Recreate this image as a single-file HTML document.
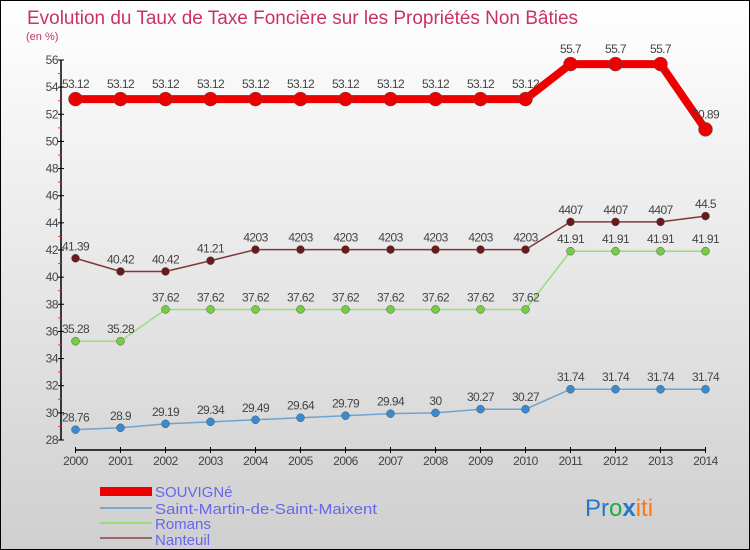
<!DOCTYPE html>
<html><head><meta charset="utf-8"><style>
html,body{margin:0;padding:0;}
svg{display:block;font-family:"Liberation Sans",sans-serif;}
</style></head><body>
<svg id="chart" width="750" height="550" xmlns="http://www.w3.org/2000/svg">
<defs>
<linearGradient id="bg" x1="0" y1="0" x2="0" y2="1"><stop offset="0" stop-color="#ffffff"/><stop offset="1" stop-color="#cfcfcf"/></linearGradient>
</defs>
<rect x="0.5" y="0.5" width="749" height="549" fill="url(#bg)" stroke="#000"/>
<text x="27" y="24" font-size="19" fill="#c8345e" textLength="551" lengthAdjust="spacingAndGlyphs">Evolution du Taux de Taxe Foncière sur les Propriétés Non Bâties</text>
<text x="26" y="40" font-size="11" fill="#c8345e">(en %)</text>
<g id="axes"></g>
<g id="series"></g>
<g>
<rect x="100" y="487" width="52" height="9" fill="#ee0000"/>
<text x="155" y="497" font-size="15" fill="#6666ee">SOUVIGNé</text>
<rect x="100" y="507" width="52" height="2" fill="#7aa8cc"/>
<text x="155" y="514" font-size="15" fill="#6666ee" textLength="222" lengthAdjust="spacingAndGlyphs">Saint-Martin-de-Saint-Maixent</text>
<rect x="100" y="522" width="52" height="2" fill="#99dd77"/>
<text x="155" y="529" font-size="15" fill="#6666ee">Romans</text>
<rect x="100" y="537" width="52" height="2" fill="#9a6666"/>
<text x="155" y="545" font-size="15" fill="#6666ee">Nanteuil</text>
</g>
<text x="585" y="516" font-size="24"><tspan fill="#2277cc">Pr</tspan><tspan fill="#22aa44">o</tspan><tspan fill="#2277cc" font-weight="bold">x</tspan><tspan fill="#ff7711">iti</tspan></text>
</svg>
<script>
const years=[2000,2001,2002,2003,2004,2005,2006,2007,2008,2009,2010,2011,2012,2013,2014];
const souvigne=[53.12,53.12,53.12,53.12,53.12,53.12,53.12,53.12,53.12,53.12,53.12,55.7,55.7,55.7,50.89];
const saintMartin=[28.76,28.9,29.19,29.34,29.49,29.64,29.79,29.94,30,30.27,30.27,31.74,31.74,31.74,31.74];
const romans=[35.28,35.28,37.62,37.62,37.62,37.62,37.62,37.62,37.62,37.62,37.62,41.91,41.91,41.91,41.91];
const nanteuil=[41.39,40.42,40.42,41.21,42.03,42.03,42.03,42.03,42.03,42.03,42.03,44.07,44.07,44.07,44.5];
const yTicks=[28,30,32,34,36,38,40,42,44,46,48,50,52,54,56];
const NS="http://www.w3.org/2000/svg";
const X=i=>75.5+i*45;
const Y=v=>440-(v-28)*(380/28);
function mk(tag,attrs,parent){const e=document.createElementNS(NS,tag);for(const k in attrs)e.setAttribute(k,attrs[k]);parent.appendChild(e);return e;}
const axes=document.getElementById('axes');
let yl=mk('line',{x1:61,y1:Y(56),x2:61,y2:Y(28),stroke:'#000','stroke-width':1.5},axes);


yTicks.forEach(t=>{
 let tk=mk('line',{x1:58,x2:64,y1:Y(t),y2:Y(t),stroke:'#000'},axes);
 
 
 if(t<56){let m=mk('line',{x1:58,x2:61,y1:Y(t+1),y2:Y(t+1),stroke:'#e33'},axes);
 
 }
 let tx=mk('text',{x:58,y:Y(t)+4,'font-size':12,fill:'#444','text-anchor':'end','letter-spacing':'-0.5'},axes);
 tx.textContent=t;
 
 
});
let xl=mk('line',{x1:X(0),y1:450,x2:X(14),y2:450,stroke:'#000','stroke-width':1.5},axes);


years.forEach((yr,i)=>{
 let tk=mk('line',{x1:X(i),x2:X(i),y1:447,y2:453,stroke:'#000'},axes);
 
 
 let tx=mk('text',{x:X(i),y:465,'font-size':12,fill:'#444','text-anchor':'middle','letter-spacing':'-0.5'},axes);
 tx.textContent=yr;
 
 
});
const ser=document.getElementById('series');
function draw(vals,name,color,dot,lw,r,labelOff){
 const g=mk('g',{},ser);
 
 
 let p=mk('polyline',{points:vals.map((v,i)=>X(i)+','+Y(v)).join(' '),fill:'none',stroke:color,'stroke-width':lw},g);
 
 
 vals.forEach((v,i)=>{
  let c=mk('circle',{cx:X(i),cy:Y(v),r:r,fill:dot,stroke:'#555','stroke-width':0.5},g);
  
  
  let t=mk('text',{x:X(i),y:Y(v)-labelOff,'font-size':12,fill:'#444','text-anchor':'middle','letter-spacing':'-0.6'},g);
  t.textContent=String(v).replace(/^(\d\d)\.(0\d)$/,'$1$2');
  
  
 });
}
draw(saintMartin,'saint-martin','#6fa3cf','#3a8ad0',1.5,4,8);
draw(romans,'romans','#99dd77','#77cc44',1.5,4,8);
draw(nanteuil,'nanteuil','#7a3a3a','#6a1a1a',1.5,4,8);
draw(souvigne,'souvigne','#ee0000','#ee0000',8,7,11);
</script>
</body></html>
